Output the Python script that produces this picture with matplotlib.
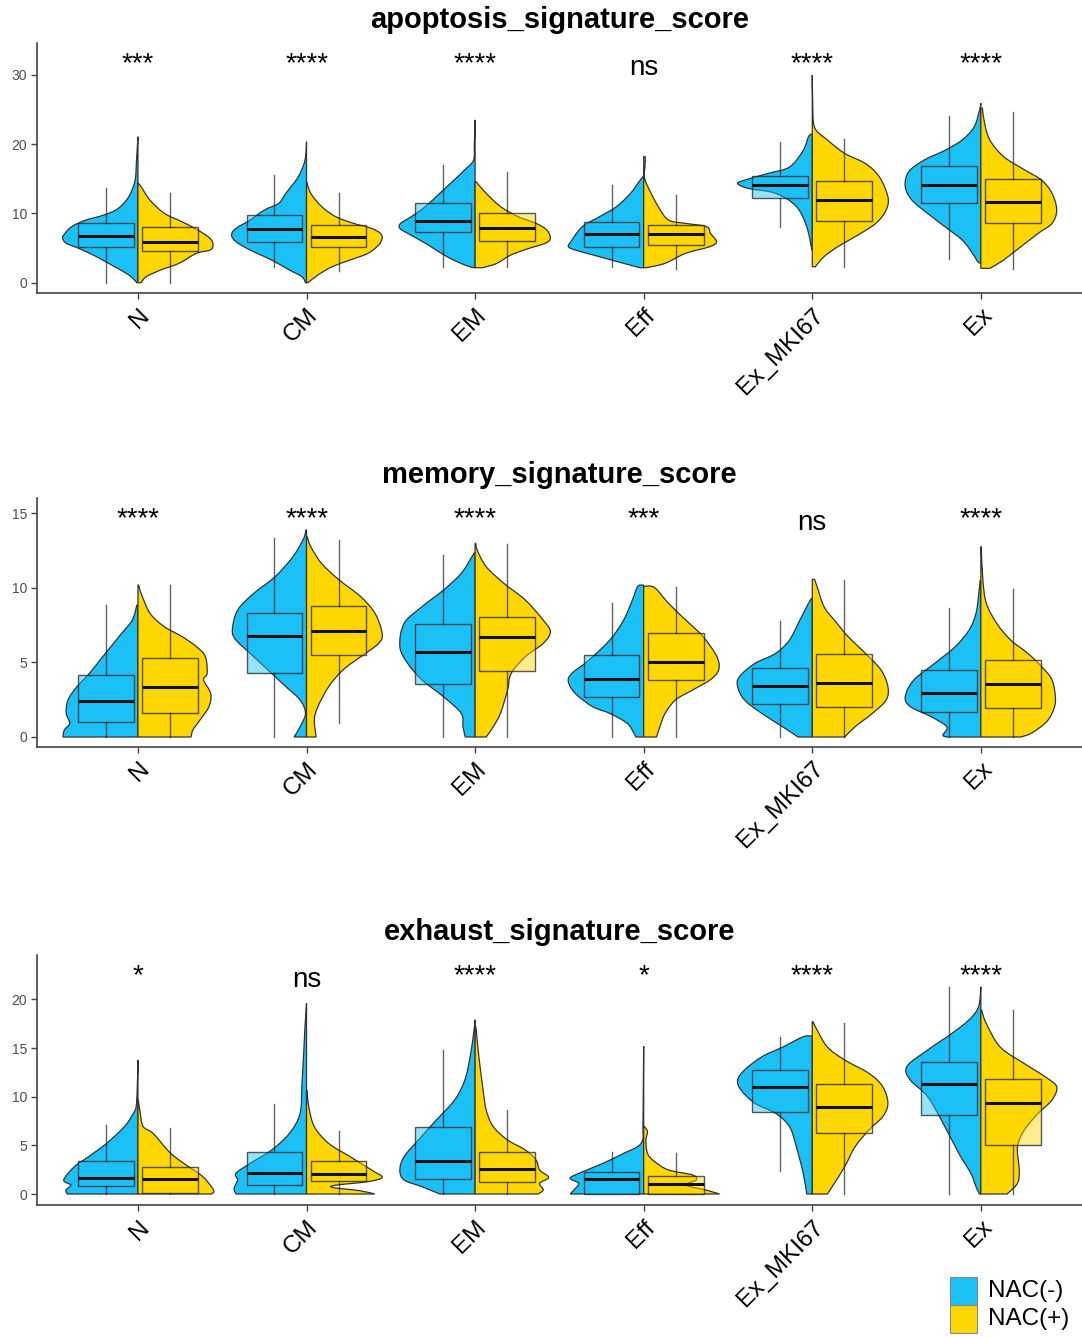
import matplotlib
matplotlib.use("Agg")
import matplotlib.pyplot as plt
from matplotlib.patches import Rectangle, PathPatch
from matplotlib.path import Path
import matplotlib.transforms as mtransforms
import numpy as np

plt.rcParams['font.family'] = ['Liberation Sans', 'DejaVu Sans']

CATEGORIES = ["N", "CM", "EM", "Eff", "Ex_MKI67", "Ex"]
GROUPS = ["NAC(-)", "NAC(+)"]
COLORS = ["#1BC0F6", "#FFD700"]
TITLES = ["apoptosis_signature_score", "memory_signature_score", "exhaust_signature_score"]

# ---- violin density profiles: [score, relative density] from top to bottom ----
APO_NEG_VIOLIN = [
    [[21.07, 0], [17.7, 0.019], [14.8, 0.038], [12.4, 0.122], [10.7, 0.263], [9.76, 0.452], [9.04, 0.687], [8.08, 0.875], [6.88, 0.978], [6.4, 0.992], [5.68, 0.945], [4.95, 0.78], [3.75, 0.546], [2.31, 0.31], [1.11, 0.12], [0, 0.014]],
    [[20.35, 0], [17.7, 0.02], [15.3, 0.108], [12.9, 0.273], [11.45, 0.367], [10.5, 0.555], [9.04, 0.743], [7.84, 0.93], [6.88, 0.988], [5.92, 0.93], [4.71, 0.743], [3.27, 0.46], [1.83, 0.226], [0.87, 0.061], [0, 0.014]],
    [[23.5, 0], [20.1, 0.01], [17.7, 0.02], [16.3, 0.136], [14.8, 0.278], [12.9, 0.466], [11.0, 0.654], [9.52, 0.842], [8.56, 0.983], [7.84, 0.992], [7.12, 0.889], [5.68, 0.654], [3.75, 0.37], [2.55, 0.136], [2.16, 0.02]],
    [[15.3, 0.01], [14.6, 0.06], [12.9, 0.173], [11.0, 0.355], [9.52, 0.583], [8.08, 0.81], [5.92, 0.96], [5.2, 0.992], [4.71, 0.9], [3.75, 0.583], [2.79, 0.264], [2.16, 0.05]],
    [[21.5, 0], [21.07, 0.05], [19.1, 0.119], [16.7, 0.3], [15.8, 0.574], [14.8, 0.893], [14.3, 0.984], [13.6, 0.84], [12.9, 0.483], [11.0, 0.21], [8.08, 0.073], [4.71, 0.005]],
    [[25.9, 0], [24.9, 0.018], [22.5, 0.087], [20.6, 0.246], [19.1, 0.474], [17.7, 0.747], [16.0, 0.952], [13.85, 0.997], [11.9, 0.907], [10.0, 0.702], [8.08, 0.474], [6.16, 0.246], [4.23, 0.109], [3.03, 0.041], [2.79, 0]],
]
APO_POS_VIOLIN = [
    [[14.4, 0], [13.85, 0.042], [11.9, 0.16], [10.0, 0.35], [8.8, 0.58], [7.6, 0.79], [6.4, 0.95], [5.44, 0.99], [4.71, 0.95], [4.23, 0.77], [2.79, 0.54], [1.83, 0.3], [0.87, 0.11], [0, 0.04]],
    [[14.6, 0], [12.9, 0.056], [11.0, 0.198], [9.52, 0.386], [8.56, 0.621], [7.84, 0.856], [7.12, 0.974], [6.4, 0.997], [5.44, 0.95], [4.23, 0.809], [3.27, 0.574], [2.31, 0.339], [1.11, 0.15], [0, 0.02]],
    [[14.6, 0.01], [12.9, 0.146], [11.0, 0.334], [9.52, 0.569], [8.56, 0.804], [7.6, 0.945], [6.4, 0.992], [5.68, 0.922], [4.95, 0.71], [3.99, 0.47], [2.79, 0.287], [2.16, 0.1]],
    [[18.2, 0.02], [17.2, 0.02], [15.3, 0.01], [13.85, 0.055], [11.0, 0.191], [9.04, 0.328], [8.56, 0.556], [8.08, 0.83], [7.12, 0.88], [5.92, 0.96], [5.2, 0.87], [4.23, 0.55], [2.79, 0.28], [2.16, 0.03]],
    [[29.97, 0], [26.4, 0.005], [22.5, 0.027], [20.6, 0.2], [18.66, 0.428], [17.2, 0.7], [15.3, 0.883], [12.4, 0.997], [10.5, 0.974], [8.56, 0.838], [6.64, 0.565], [5.2, 0.337], [3.75, 0.155], [2.31, 0.041]],
    [[25.2, 0.02], [23.0, 0.05], [20.6, 0.118], [18.2, 0.3], [16.3, 0.574], [14.8, 0.801], [12.9, 0.938], [10.5, 1.0], [8.56, 0.938], [7.12, 0.756], [5.2, 0.528], [3.27, 0.3], [2.07, 0.118]],
]
MEM_NEG_VIOLIN = [
    [[8.84, 0.014], [7.83, 0.075], [6.94, 0.216], [6.05, 0.357], [5.16, 0.5], [4.26, 0.64], [3.37, 0.804], [2.48, 0.922], [1.58, 0.945], [0.92, 0.9], [0.47, 0.97], [0.0, 0.99]],
    [[13.86, 0.01], [13.3, 0.038], [12.08, 0.179], [10.74, 0.414], [9.62, 0.696], [8.5, 0.908], [7.17, 0.978], [6.5, 0.931], [5.6, 0.743], [4.49, 0.508], [3.37, 0.273], [2.48, 0.085], [1.58, 0.014], [0.69, 0.085], [0, 0.165]],
    [[12.34, 0.01], [12.08, 0.042], [10.96, 0.183], [9.84, 0.418], [8.73, 0.7], [7.61, 0.936], [6.05, 0.992], [4.93, 0.889], [3.82, 0.7], [2.7, 0.418], [1.58, 0.183], [0.69, 0.16], [0, 0.13]],
    [[10.18, 0.02], [10.07, 0.082], [9.17, 0.15], [7.83, 0.264], [6.5, 0.446], [5.16, 0.72], [4.26, 0.947], [3.7, 0.993], [2.92, 0.902], [2.03, 0.674], [1.58, 0.446], [0.92, 0.219], [0.25, 0.128], [0, 0.105]],
    [[9.29, 0.01], [8.95, 0.05], [7.83, 0.164], [6.5, 0.3], [5.6, 0.483], [4.93, 0.756], [4.04, 0.96], [3.37, 0.984], [2.48, 0.893], [1.58, 0.665], [0.69, 0.392], [0, 0.187]],
    [[10.5, 0.01], [9.62, 0.027], [8.28, 0.064], [7.17, 0.155], [6.05, 0.337], [4.93, 0.61], [3.82, 0.883], [2.7, 0.997], [2.03, 0.929], [1.36, 0.656], [0.69, 0.45], [0.13, 0.5], [0, 0.45]],
]
MEM_POS_VIOLIN = [
    [[10.18, 0.01], [9.62, 0.042], [8.28, 0.16], [7.39, 0.348], [6.72, 0.583], [6.05, 0.771], [5.38, 0.889], [4.26, 0.912], [3.82, 0.865], [2.92, 0.959], [2.03, 0.936], [1.14, 0.818], [0.47, 0.724], [0, 0.70]],
    [[13.4, 0.01], [12.75, 0.056], [11.63, 0.198], [10.51, 0.433], [9.4, 0.715], [8.28, 0.903], [6.94, 0.997], [6.27, 0.95], [5.38, 0.715], [4.49, 0.48], [3.37, 0.292], [2.03, 0.15], [1.14, 0.103], [0, 0.127]],
    [[12.97, 0.01], [12.52, 0.028], [11.41, 0.146], [10.29, 0.381], [9.17, 0.663], [7.83, 0.898], [7.05, 0.992], [6.27, 0.898], [5.38, 0.663], [4.26, 0.475], [3.15, 0.428], [1.58, 0.334], [0.69, 0.24], [0, 0.146]],
    [[10.1, 0.02], [10.0, 0.146], [8.95, 0.328], [7.83, 0.556], [6.72, 0.783], [5.38, 0.965], [4.49, 0.988], [3.82, 0.874], [3.15, 0.646], [2.48, 0.419], [1.58, 0.282], [0.69, 0.214], [0, 0.169]],
    [[10.56, 0.03], [10.07, 0.064], [8.73, 0.155], [7.83, 0.291], [6.72, 0.474], [5.6, 0.701], [4.49, 0.906], [3.37, 0.997], [2.48, 0.974], [1.58, 0.792], [0.69, 0.565], [0, 0.428]],
    [[12.75, 0.005], [10.5, 0.027], [8.95, 0.073], [7.61, 0.21], [6.5, 0.392], [5.6, 0.62], [4.71, 0.801], [3.82, 0.938], [2.48, 0.984], [1.58, 0.938], [0.92, 0.847], [0.25, 0.665], [0, 0.528]],
]
EXH_NEG_VIOLIN = [
    [[13.77, 0], [10.68, 0.01], [8.97, 0.024], [8.29, 0.06], [6.92, 0.179], [5.2, 0.414], [3.84, 0.65], [2.81, 0.838], [1.44, 0.978], [0.92, 0.884], [0.41, 0.95], [0, 0.93]],
    [[19.6, 0], [17.2, 0.02], [14.1, 0.04], [11.4, 0.06], [8.29, 0.085], [6.23, 0.226], [4.52, 0.46], [3.15, 0.743], [2.12, 0.931], [1.44, 0.908], [0.58, 0.955], [0, 0.93]],
    [[17.9, 0], [16.5, 0.02], [14.1, 0.066], [11.7, 0.136], [9.66, 0.27], [7.6, 0.512], [5.55, 0.748], [3.84, 0.936], [2.47, 0.992], [1.44, 0.936], [0.75, 0.7], [0, 0.466]],
    [[15.2, 0], [10.7, 0.005], [6.92, 0.01], [5.55, 0.014], [4.86, 0.082], [4.18, 0.264], [3.15, 0.537], [2.12, 0.856], [1.61, 0.97], [1.1, 0.856], [0.58, 0.9], [0, 0.97]],
    [[16.23, 0.0], [16.16, 0.12], [15.1, 0.39], [14.1, 0.665], [12.74, 0.893], [11.71, 0.984], [10.68, 0.938], [9.32, 0.756], [8.29, 0.483], [6.92, 0.3], [4.86, 0.21], [2.12, 0.119], [0, 0.073]],
    [[21.3, 0], [19.25, 0.03], [17.9, 0.155], [16.5, 0.383], [14.8, 0.701], [13.1, 0.975], [11.7, 0.929], [10.0, 0.701], [6.92, 0.474], [4.18, 0.291], [2.12, 0.132], [0.75, 0.064], [0, 0.02]],
]
EXH_POS_VIOLIN = [
    [[9.66, 0.005], [8.29, 0.03], [6.92, 0.07], [6.23, 0.2], [4.18, 0.432], [2.81, 0.668], [1.78, 0.856], [0.41, 0.997], [0, 0.97]],
    [[10.68, 0.005], [8.97, 0.03], [6.92, 0.103], [5.2, 0.292], [3.84, 0.574], [2.47, 0.856], [1.71, 0.997], [1.27, 0.809], [0.92, 0.4], [0.68, 0.34], [0.34, 0.7], [0, 0.9]],
    [[17.2, 0.01], [14.1, 0.05], [11.0, 0.1], [8.63, 0.146], [6.92, 0.24], [5.55, 0.428], [4.52, 0.663], [3.49, 0.804], [2.47, 0.851], [1.71, 0.969], [1.1, 0.851], [0.41, 0.898], [0, 0.828]],
    [[6.92, 0.01], [6.4, 0.05], [5.55, 0.03], [4.18, 0.05], [3.32, 0.146], [2.47, 0.328], [1.95, 0.647], [1.44, 0.692], [0.92, 0.556], [0.41, 0.82], [0, 1.0]],
    [[17.7, 0.01], [16.85, 0.064], [15.1, 0.2], [13.77, 0.428], [12.4, 0.747], [11.03, 0.929], [9.32, 0.997], [7.95, 0.929], [6.58, 0.747], [4.86, 0.565], [2.81, 0.428], [1.1, 0.291], [0, 0.2]],
    [[18.9, 0.01], [17.5, 0.073], [15.1, 0.255], [13.4, 0.574], [12.05, 0.847], [11.03, 1.0], [9.66, 0.938], [8.29, 0.756], [6.58, 0.574], [4.86, 0.483], [2.47, 0.506], [1.1, 0.483], [0, 0.346]],
]

# ---- box statistics: [lower whisker, Q1, median, Q3, upper whisker] ----
APO_NEG_BOX = [[0, 5.1, 6.78, 8.56, 13.6], [2.31, 5.92, 7.74, 9.76, 15.5], [2.3, 7.26, 8.95, 11.45, 17.0],
               [2.31, 5.2, 6.97, 8.8, 14.1], [8.08, 12.17, 14.09, 15.44, 20.25], [3.37, 11.45, 14.09, 16.88, 24.1]]
APO_POS_BOX = [[0, 4.62, 5.92, 7.98, 12.9], [1.73, 5.1, 6.64, 8.32, 13.0], [2.2, 6.06, 7.84, 10.1, 16.0],
               [2.0, 5.44, 6.97, 8.32, 12.65], [2.31, 8.95, 11.93, 14.67, 20.7], [2.02, 8.56, 11.69, 14.96, 24.6]]
MEM_NEG_BOX = [[0, 0.98, 2.41, 4.15, 8.84], [0, 4.26, 6.76, 8.28, 13.3], [0, 3.55, 5.71, 7.57, 12.19],
               [0, 2.7, 3.88, 5.49, 9.0], [0, 2.21, 3.42, 4.6, 7.79], [0, 1.7, 2.92, 4.49, 8.66]]
MEM_POS_BOX = [[0, 1.58, 3.33, 5.27, 10.18], [0.92, 5.49, 7.1, 8.77, 13.2], [0, 4.44, 6.72, 8.06, 12.9],
               [0, 3.82, 5.04, 6.94, 10.07], [0, 2.03, 3.59, 5.56, 10.5], [0, 1.92, 3.53, 5.16, 9.89]]
EXH_NEG_BOX = [[0, 0.82, 1.68, 3.42, 7.09], [0, 0.92, 2.19, 4.28, 9.25], [0, 1.54, 3.42, 6.85, 14.8],
               [0, 0, 1.51, 2.29, 4.35], [2.4, 8.46, 11.03, 12.74, 16.1], [0, 8.12, 11.3, 13.6, 21.3]]
EXH_POS_BOX = [[0, 0.07, 1.51, 2.81, 6.75], [0, 1.34, 2.02, 3.42, 6.5], [0, 1.27, 2.53, 4.28, 8.63],
               [0, 0, 1.03, 1.85, 4.18], [0, 6.23, 8.97, 11.3, 17.6], [0, 5.03, 9.32, 11.78, 18.9]]

# ---- significance labels ----
APO_SIG = ["***", "****", "****", "ns", "****", "****"]
MEM_SIG = ["****", "****", "****", "***", "ns", "****"]
EXH_SIG = ["*", "ns", "****", "*", "****", "****"]
SIG_Y = [30.0, 13.87, 21.3]

YTICKS = [[0, 10, 20, 30], [0, 5, 10, 15], [0, 5, 10, 15, 20]]
YLIMS = [(-1.53, 34.55), (-0.65, 15.99), (-1.13, 24.56)]

PANELS = [
    (APO_NEG_VIOLIN, APO_POS_VIOLIN, APO_NEG_BOX, APO_POS_BOX, APO_SIG),
    (MEM_NEG_VIOLIN, MEM_POS_VIOLIN, MEM_NEG_BOX, MEM_POS_BOX, MEM_SIG),
    (EXH_NEG_VIOLIN, EXH_POS_VIOLIN, EXH_NEG_BOX, EXH_POS_BOX, EXH_SIG),
]

W, H = 1082, 1338
fig = plt.figure(figsize=(W / 100, H / 100), dpi=100)

AX_PIX = [(43.3, 293.3), (498.3, 746.7), (955.0, 1205.0)]
MAXW = 0.45
BOX_W = 0.33
BOX_OFF = 0.19
EDGE = "#333333"


def to_rgba(hexc, a):
    r, g, b = matplotlib.colors.to_rgb(hexc)
    return (r, g, b, a)


def half_violin_path(center, sign, prof):
    """Smooth outline (Catmull-Rom as cubic Beziers) through the profile points."""
    arr = np.array(prof, dtype=float)
    ys = arr[:, 0]
    ws = arr[:, 1] * MAXW
    n = len(ys)
    verts = [(center, ys[0]), (center + sign * ws[0], ys[0])]
    codes = [Path.MOVETO, Path.LINETO]
    for k in range(n - 1):
        p0 = np.array([ws[max(k - 1, 0)], ys[max(k - 1, 0)]])
        p1 = np.array([ws[k], ys[k]])
        p2 = np.array([ws[k + 1], ys[k + 1]])
        p3 = np.array([ws[min(k + 2, n - 1)], ys[min(k + 2, n - 1)]])
        c1 = p1 + (p2 - p0) / 6.0
        c2 = p2 - (p3 - p1) / 6.0
        c1[0] = max(c1[0], 0.0)
        c2[0] = max(c2[0], 0.0)
        for c in (c1, c2, p2):
            verts.append((center + sign * c[0], c[1]))
            codes.append(Path.CURVE4)
    verts.append((center, ys[-1]))
    codes.append(Path.LINETO)
    verts.append((center, ys[0]))
    codes.append(Path.CLOSEPOLY)
    return Path(verts, codes)


for p, (neg_v, pos_v, neg_b, pos_b, sig) in enumerate(PANELS):
    top_px, bot_px = AX_PIX[p]
    ax = fig.add_axes([36.8 / W, 1 - bot_px / H, 1 - 36.8 / W, (bot_px - top_px) / H])
    ax.set_xlim(-0.6, len(CATEGORIES) - 0.4)
    ax.set_ylim(*YLIMS[p])

    for i in range(len(CATEGORIES)):
        for g, (prof, sign) in enumerate([(neg_v[i], -1), (pos_v[i], 1)]):
            patch = PathPatch(half_violin_path(i, sign, prof), facecolor=COLORS[g],
                              edgecolor=EDGE, linewidth=0.9, zorder=2)
            ax.add_patch(patch)

        for g, (stats, sign) in enumerate([(neg_b[i], -1), (pos_b[i], 1)]):
            lo, q1, med, q3, hi = stats
            d = dict(whislo=lo, q1=q1, med=med, q3=q3, whishi=hi, fliers=[])
            ax.bxp([d], positions=[i + sign * BOX_OFF], widths=BOX_W, showcaps=False,
                   showfliers=False, patch_artist=True, manage_ticks=False,
                   boxprops=dict(facecolor=to_rgba(COLORS[g], 0.45), edgecolor=to_rgba("#222222", 0.75), linewidth=1.0),
                   whiskerprops=dict(color=to_rgba("#222222", 0.7), linewidth=1.0),
                   medianprops=dict(color="#111111", linewidth=2.2, solid_capstyle="butt"),
                   zorder=3)

        if sig[i] == "ns":
            tr = ax.transData
        else:
            tr = ax.transData + mtransforms.ScaledTranslation(0, 4 / 100, fig.dpi_scale_trans)
        ax.text(i, SIG_Y[p], sig[i], ha="center", va="baseline", fontsize=20, color="black",
                zorder=4, transform=tr)

    for s in ["top", "right"]:
        ax.spines[s].set_visible(False)
    for s in ["left", "bottom"]:
        ax.spines[s].set_color("#444444")
        ax.spines[s].set_linewidth(1.2)
    ax.set_xticks(range(len(CATEGORIES)))
    ax.set_xticklabels(CATEGORIES)
    ax.set_yticks(YTICKS[p])
    ax.tick_params(axis="both", colors="#444444", length=4, width=1.0)
    ax.tick_params(axis="y", labelsize=10, labelcolor="#4D4D4D", pad=3)
    ax.tick_params(axis="x", labelsize=17.5, labelcolor="black", pad=4)
    plt.setp(ax.get_xticklabels(), rotation=45, ha="right", va="top", rotation_mode="anchor")

    fig.text((36.8 + W) / 2 / W, 1 - (top_px - 15) / H, TITLES[p], ha="center", va="baseline",
             fontsize=21, fontweight="bold")

# legend
key_x, key_w, key_h = 950 / W, 27 / W, 28 / H
for g, ytop in enumerate([1277, 1305]):
    fig.patches.append(Rectangle((key_x, 1 - (ytop + 28) / H), key_w, key_h, transform=fig.transFigure,
                                 facecolor=COLORS[g], edgecolor="#888888", linewidth=0.8))
    fig.text(988 / W, 1 - (ytop + 14) / H, GROUPS[g], ha="left", va="center", fontsize=17.5)

fig.savefig("out.png", dpi=100)
